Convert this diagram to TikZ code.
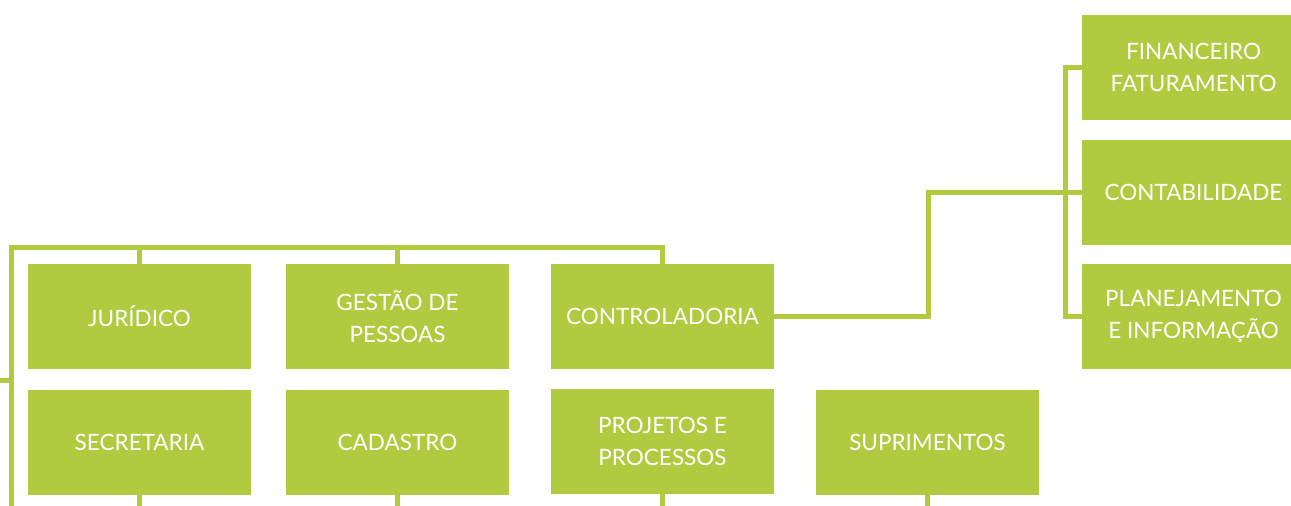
\documentclass[tikz,border=0pt]{standalone}
\usepackage{fontspec}
\setmainfont{Lato}
\usepackage{tikz}
\definecolor{leaf}{RGB}{176,203,63}

\tikzset{
  unit/.style={fill=leaf, text=white, minimum width=223pt, minimum height=105pt,
    inner sep=0pt, align=center, font=\fontsize{22.5}{32}\selectfont},
  link/.style={draw=leaf, line width=5pt}
}

\begin{document}
\begin{tikzpicture}[x=1pt,y=-1pt]
    \useasboundingbox (0,0) rectangle (1291,506);
    \clip (0,0) rectangle (1291,506);
    % first row
    \node[unit] (jur)  at (139.5,316.5) {JURÍDICO};
    \node[unit] (gest) at (397.5,316.5) {GESTÃO DE\\PESSOAS};
    \node[unit] (ctrl) at (662.5,316.5) {CONTROLADORIA};
    % second row
    \node[unit] (sec)  at (139.5,442.5) {SECRETARIA};
    \node[unit] (cad)  at (397.5,442.5) {CADASTRO};
    \node[unit] (proj) at (662.5,441.5) {PROJETOS E\\PROCESSOS};
    \node[unit] (supr) at (927.5,442.5) {SUPRIMENTOS};
    % right column
    \node[unit] (fin)  at (1193.5,67.5)  {FINANCEIRO\\FATURAMENTO};
    \node[unit] (cont) at (1193.5,192)   {CONTABILIDADE};
    \node[unit] (plan) at (1193.5,316.5) {PLANEJAMENTO\\E INFORMAÇÃO};

    \coordinate (busL) at (11.5,247);
    \coordinate (busR) at (662.5,247);
    \coordinate (down) at (11.5,506);
    \coordinate (stub) at (0,380);
    \coordinate (turn) at (928,192);
    \coordinate (trunkT) at (1065,67.5);
    \coordinate (trunkB) at (1065,316.5);

    \draw[link] (down) -- (busL) -- (busR) -- (ctrl.north);
    \draw[link] (jur.north) -- (jur.north |- busL);
    \draw[link] (gest.north) -- (gest.north |- busL);
    \draw[link] (stub) -- (stub -| busL);
    \foreach \n in {sec,cad,proj,supr}
        \draw[link] (\n.south) -- ++(0,14);
    \draw[link] (ctrl.east) -| (turn) -- (cont.west);
    \draw[link] (fin.west) -- (trunkT) -- (trunkB) -- (plan.west);
\end{tikzpicture}
\end{document}
